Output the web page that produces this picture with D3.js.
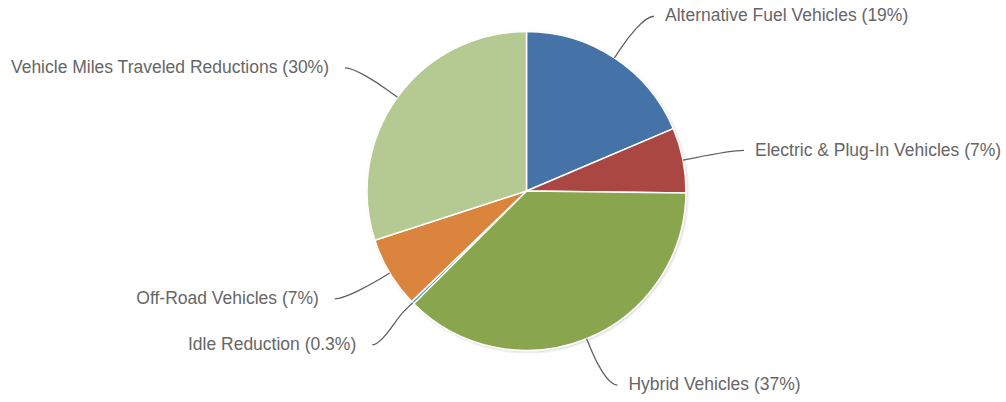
<!DOCTYPE html>
<html>
<head>
<meta charset="utf-8">
<script src="https://cdn.jsdelivr.net/npm/d3@7/dist/d3.min.js"></script>
<style>
  html, body { margin: 0; padding: 0; background: #fff; }
  svg { display: block; }
</style>
</head>
<body>
<svg id="chart"></svg>
<script>
// 数据
const categories = [
    "Alternative Fuel Vehicles",
    "Electric & Plug-In Vehicles",
    "Hybrid Vehicles",
    "Idle Reduction",
    "Off-Road Vehicles",
    "Vehicle Miles Traveled Reductions"
];
const values = [18.6, 6.6, 37.3, 0.3, 7.2, 30.0];
const colors = ["#4572A7", "#AA4643", "#89A54E", "#3D96AE", "#DB843D", "#B5CA92"];

const width = 1006, height = 402;
const cx = 526.5, cy = 191, radius = 159.5;
const distance = 50;

const svg = d3.select("#chart").attr("width", width).attr("height", height);

// 阴影
const defs = svg.append("defs");
const f = defs.append("filter").attr("id", "shadow").attr("x", "-10%").attr("y", "-10%").attr("width", "120%").attr("height", "120%");
f.append("feDropShadow").attr("dx", 1).attr("dy", 1).attr("stdDeviation", 1.2).attr("flood-color", "#000").attr("flood-opacity", 0.18);

const pie = d3.pie().sort(null).value(d => d.value);
const arcs = pie(categories.map((c, i) => ({ name: c, value: values[i], color: colors[i] })));

const arc = d3.arc().innerRadius(0).outerRadius(radius);

const g = svg.append("g").attr("transform", `translate(${cx},${cy})`);

g.append("g")
    .attr("filter", "url(#shadow)")
    .selectAll("path")
    .data(arcs)
    .join("path")
    .attr("d", arc)
    .attr("fill", d => d.data.color)
    .attr("stroke", "#fff")
    .attr("stroke-width", 1.5)
    .attr("stroke-linejoin", "round");

// 标签位置 (仿 Highcharts)
const total = d3.sum(values);
const labels = arcs.map(d => {
    const a = (d.startAngle + d.endAngle) / 2;
    const s = Math.sin(a), c = -Math.cos(a);
    const left = s < 0;
    const y = c * (radius + distance);
    return { d, a, s, c, left, y };
});

// 简单防重叠（左侧自上而下）
const leftSide = labels.filter(l => l.left).sort((p, q) => p.y - q.y);
for (let i = 1; i < leftSide.length; i++) {
    if (leftSide[i].y - leftSide[i - 1].y < 46) leftSide[i].y = leftSide[i - 1].y + 46;
}

labels.forEach(l => {
    const ratio = Math.max(-1, Math.min(1, l.y / (radius + distance)));
    const xr = Math.cos(Math.asin(ratio)) * (radius + distance);
    l.x = (l.left ? -1 : 1) * (xr + 12);
});

const fmt = v => v < 1 ? v.toFixed(1) : Math.round(v);

// 连接线
g.append("g")
    .selectAll("path")
    .data(labels)
    .join("path")
    .attr("fill", "none")
    .attr("stroke", "#606060")
    .attr("stroke-width", 1.3)
    .attr("d", l => {
        const tx = l.s * radius, ty = l.c * radius;
        const bx = l.s * (radius + 12), by = l.c * (radius + 12);
        const dir = l.left ? -1 : 1;
        return `M${l.x},${l.y} C${l.x - dir * 10},${l.y} ${2 * bx - tx},${2 * by - ty} ${bx},${by} L${tx},${ty}`;
    });

// 文本
g.append("g")
    .selectAll("text")
    .data(labels)
    .join("text")
    .attr("x", l => l.x + (l.left ? -16 : 11))
    .attr("y", l => l.y - 1)
    .attr("dy", "0.35em")
    .attr("text-anchor", l => l.left ? "end" : "start")
    .style("font-family", "Arial, 'Liberation Sans', sans-serif")
    .style("font-size", "17.5px")
    .style("fill", "#666")
    .text(l => `${l.d.data.name} (${fmt(l.d.data.value / total * 100)}%)`);
</script>
</body>
</html>
